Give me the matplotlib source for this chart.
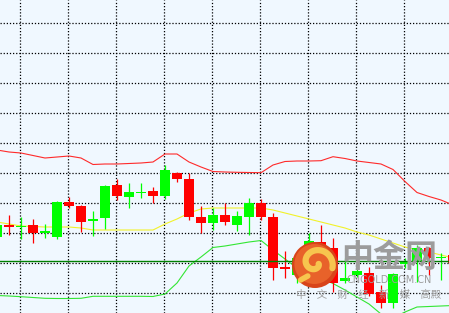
import numpy as np
import matplotlib
matplotlib.use("Agg")
import matplotlib.pyplot as plt
from matplotlib.patches import Ellipse

# candle index -1 .. 37 (first and last are cut by the frame)
idx = list(range(-1, 38))
opens = [76, 88, 86, 88, 80, 76, 111, 107, 92, 95, 128, 116, 120, 122, 117, 140, 134, 96, 90, 98,
         88, 96, 110, 96, 45.5, 38, 53, 71, 65, 32, 38, 40, 21, 10, 49, 51, 65, 55, 58]
closes = [88, 86, 87.5, 80, 82, 111, 107, 91, 94, 127, 117, 121, 121.5, 117, 143, 134, 96, 90, 98, 91,
          97, 110, 96, 45, 44.5, 55, 72, 55, 30, 35, 42, 19, 10, 39, 52, 65, 55, 56, 50]
highs = [93, 98, 96, 94, 89, 112, 116, 108, 102, 128, 134, 130, 130, 126, 148, 141, 140, 107, 105, 110,
         102, 115, 114, 100, 62, 58, 80, 88, 75, 55, 46, 46, 28, 40, 55, 68, 66, 60, 62]
lows = [73, 78, 74, 70, 75, 74, 105, 81, 77, 84, 113, 105, 115, 110, 114, 131, 93, 80, 83, 88,
        82, 78, 93, 33, 35, 30, 45, 50, 21, 30, 36, 17, 5, 5, 45, 31, 38, 33, 45]

upper = [163, 161, 160, 157.5, 155, 156, 157, 155, 148.5, 149, 149, 149.5, 150, 151, 159, 159, 151, 146,
         141.5, 141, 140.7, 140.5, 140.3, 148, 151.5, 152, 152, 152.3, 156.3, 154.5, 152, 150.5, 149,
         143.5, 131.5, 120.5, 116.5, 113, 108]
middle = [91, 89, 87, 86.5, 86, 86, 86, 85, 83, 83, 83, 83, 83, 83, 89, 94, 100, 104, 105, 105, 105,
          105, 105, 103, 100, 97, 94, 91, 88, 85, 81, 78, 74, 70, 66, 63, 61, 58, 55]
lower = [17.5, 17, 16.3, 15.5, 14.7, 14.5, 14.5, 14.7, 16.7, 16.7, 16.7, 16.7, 16.7, 16.5, 19, 30, 47,
         56, 65.5, 67, 69, 71, 72.5, 63, 54, 45, 40, 35, 29.5, 23, 16, 9, -1, -5, 1, 6, 6.5, 7, 7.5]
level = 52.3

fig = plt.figure(figsize=(4.49, 3.13), dpi=100)
ax = fig.add_axes([0, 0, 1, 1])
ax.set_facecolor("#F0F8FF")
ax.set_xlim(-0.75, 36.667)
ax.set_ylim(0, 313)

# dotted grid
for gx in np.arange(11 / 12, 37, 4):
    ax.axvline(gx, color="black", lw=0.9, ls=(0, (1, 1.5)), zorder=1)
for gy in np.arange(20, 300, 30):
    ax.axhline(gy, color="black", lw=0.9, ls=(0, (1, 1.5)), zorder=1)

# bands
ax.plot(idx, upper, color="#FF2A2A", lw=0.8, zorder=2)
ax.plot(idx, middle, color="#F2F22A", lw=0.8, zorder=2)
ax.plot(idx, lower, color="#33E633", lw=0.8, zorder=2)

# candles
for i, o, c, h, l in zip(idx, opens, closes, highs, lows):
    col = "#00FF00" if c > o else "#FF0000"
    ax.vlines(i, l, h, color=col, lw=0.9, zorder=3)
    ax.bar(i, max(abs(c - o), 1.2), bottom=min(o, c), width=0.82, color=col, lw=0, zorder=4)

ax.axhline(level, color="#008000", lw=1.0, zorder=5)

# watermark
logo = Ellipse((25.5, 48), 46 / 12, 46, facecolor="#D8441A", edgecolor="none", zorder=6)
ax.add_patch(logo)
inner = Ellipse((25.45, 49), 40 / 12, 40, facecolor="#E8622A", edgecolor="none", zorder=6)
ax.add_patch(inner)
t = np.linspace(0.3, 2.1 * np.pi, 80)
r = 2.5 + 2.3 * t
ax.plot(25.55 + r * np.cos(t) / 12, 50 + r * np.sin(-t) * 0.95, color="#F7C54E", lw=4.5,
        solid_capstyle="round", zorder=7)
ax.plot([24.9, 24.3], [37, 33], color="#F7C54E", lw=4, solid_capstyle="round", zorder=7)

cjk = ["Noto Sans CJK SC", "DejaVu Sans"]
ax.text(31.7, 55, "中金网", family=cjk, fontsize=23, fontweight="bold", color="#9C9C9C",
        ha="center", va="center", zorder=8)
ax.text(31.7, 33, "CNGOLD.COM.CN", family="DejaVu Sans", fontsize=7, color="#9C9C9C",
        ha="center", va="center", zorder=8)
ax.text(30.0, 18, "中\u3000文\u3000财\u3000经\u3000新\u3000媒\u3000高殿", family=cjk, fontsize=7.5,
        color="#A0A0A0", ha="center", va="center", zorder=8)

ax.set_xticks([])
ax.set_yticks([])
for s in ax.spines.values():
    s.set_visible(False)

fig.savefig("out.png", dpi=100, facecolor="#F0F8FF")
